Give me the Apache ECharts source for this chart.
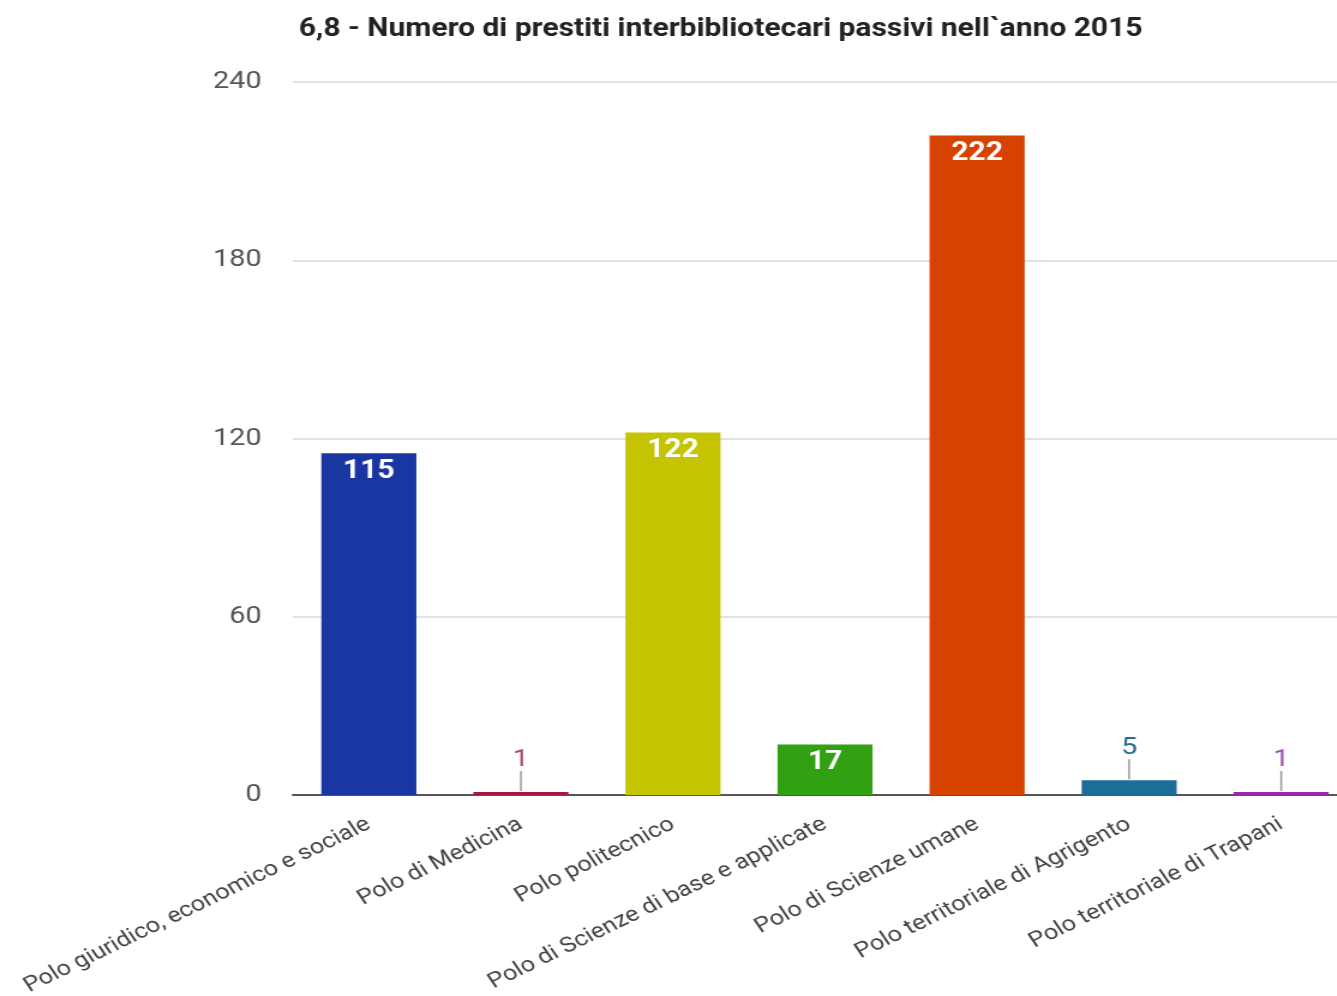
<!DOCTYPE html>
<html>
<head>
<meta charset="utf-8">
<script src="https://cdn.jsdelivr.net/npm/echarts@6/dist/echarts.min.js"></script>
<style>
html,body{margin:0;padding:0;background:#fff;overflow:hidden;}
#wrap{width:1337px;height:996px;overflow:hidden;position:relative;}
#chart{width:1140px;height:996px;transform:scaleX(1.2);transform-origin:0 0;}
</style>
</head>
<body>
<div id="wrap"><div id="chart"></div></div>
<script>
const title = "6,8 - Numero di prestiti interbibliotecari passivi nell`anno 2015";
const categories = [
  "Polo giuridico, economico e sociale",
  "Polo di Medicina",
  "Polo politecnico",
  "Polo di Scienze di base e applicate",
  "Polo di Scienze umane",
  "Polo territoriale di Agrigento",
  "Polo territoriale di Trapani"
];
const values = [115, 1, 122, 17, 222, 5, 1];
const barColors = ["#1a36a3", "#a8163f", "#c4c400", "#31a013", "#d64300", "#1c6d98", "#9c27b0"];
const outsideLabelColors = ["#1a36a3", "#a84a6c", "#c4c400", "#31a013", "#d64300", "#2c6a8c", "#a14fb6"];
const yTicks = [0, 60, 120, 180, 240];

const FONT = "Roboto";
const insideMin = 10;

const barData = values.map((v, i) => ({
  value: v,
  itemStyle: { color: barColors[i] },
  label: { show: v >= insideMin }
}));

const chart = echarts.init(document.getElementById('chart'), null, { renderer: 'canvas' });
chart.setOption({
  animation: false,
  backgroundColor: '#ffffff',
  title: {
    text: title,
    left: 244,
    top: 12,
    textStyle: { fontFamily: FONT, fontWeight: 'bold', fontSize: 25, color: '#222' }
  },
  grid: { left: 244, top: 82, width: 887, height: 713, containLabel: false, outerBoundsMode: 'none' },
  xAxis: {
    type: 'category',
    data: categories,
    axisLine: { show: true, lineStyle: { color: '#555', width: 2 } },
    axisTick: { show: false },
    axisLabel: {
      rotate: 30,
      interval: 0,
      margin: 28,
      fontFamily: FONT,
      fontSize: 21,
      color: '#444'
    }
  },
  yAxis: {
    type: 'value',
    min: yTicks[0],
    max: yTicks[yTicks.length - 1],
    interval: 60,
    axisLine: { show: false },
    axisTick: { show: false },
    splitLine: { lineStyle: { color: '#d9d9d9', width: 1.5 } },
    axisLabel: { fontFamily: FONT, fontSize: 24, color: '#555', margin: 26 }
  },
  series: [
    {
      type: 'bar',
      data: barData,
      barWidth: '62.5%',
      label: {
        position: 'insideTop',
        distance: 6,
        color: '#fff',
        fontFamily: FONT,
        fontWeight: 'bold',
        fontSize: 25
      },
      z: 2
    },
    {
      type: 'custom',
      data: values.map((v, i) => [i, v]),
      z: 3,
      renderItem: function (params, api) {
        const idx = api.value(0);
        const v = api.value(1);
        if (v >= insideMin) return null;
        const p = api.coord([idx, v]);
        return {
          type: 'group',
          children: [
            {
              type: 'line',
              shape: { x1: p[0], y1: p[1] - 1, x2: p[0], y2: p[1] - 21 },
              style: { stroke: '#999', lineWidth: 1.5 }
            },
            {
              type: 'text',
              x: p[0],
              y: p[1] - 20,
              style: {
                text: String(v),
                fill: outsideLabelColors[idx],
                font: '24px ' + FONT,
                align: 'center',
                verticalAlign: 'bottom'
              }
            }
          ]
        };
      }
    }
  ]
});
</script>
</body>
</html>
